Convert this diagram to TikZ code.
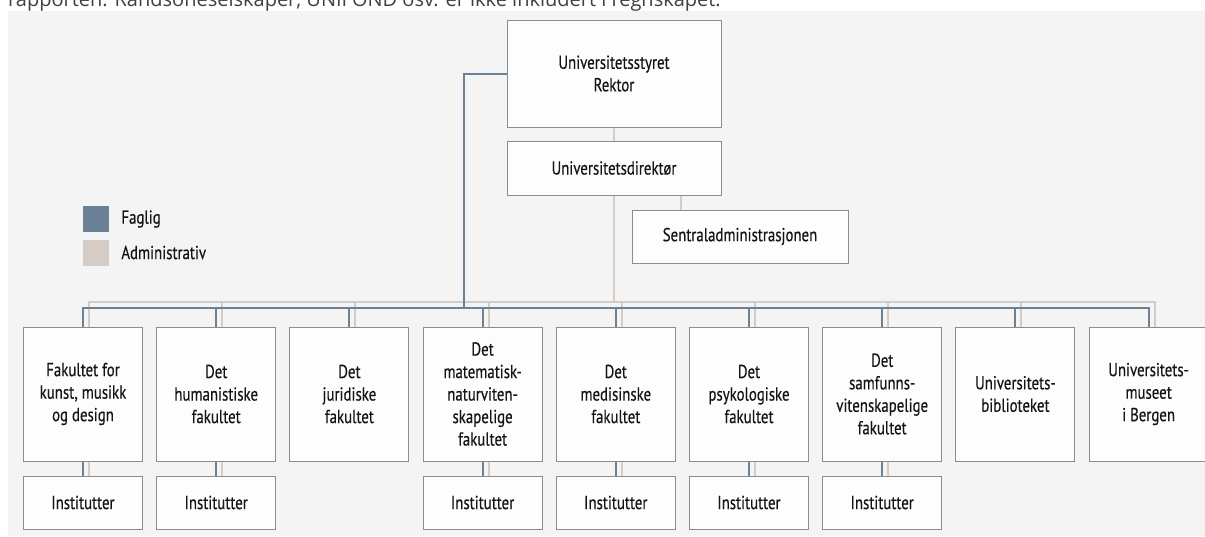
\documentclass[tikz,border=0pt]{standalone}
\usepackage{fontspec}
\setmainfont{PT Sans}[FakeStretch=0.79,FakeBold=0.35]
\newfontfamily\topfont{Open Sans}
\definecolor{bg}{HTML}{F4F4F4}
\definecolor{fag}{HTML}{6B8196}
\definecolor{adm}{HTML}{D5CCC5}
\definecolor{boxline}{HTML}{8C8C8C}
\definecolor{boxfill}{HTML}{FDFDFD}
\definecolor{txt}{HTML}{141414}
\definecolor{toptxt}{HTML}{404040}
\begin{document}
\begin{tikzpicture}[x=1pt,y=-1pt,
  box/.style={draw=boxline, line width=1pt, fill=boxfill, align=center, inner sep=0pt,
    font=\fontsize{18.8}{22.5}\selectfont, text=txt},
  fac/.style={box, minimum width=119, minimum height=134},
  inst/.style={box, minimum width=119, minimum height=53},
  faglig/.style={draw=fag, line width=2pt},
  admin/.style={draw=adm, line width=2pt},
  legtext/.style={anchor=west, inner sep=0pt, font=\fontsize{18.8}{22.5}\selectfont, text=txt}]
\useasboundingbox (0,0) rectangle (1205,536);
\clip (0,0) rectangle (1205,536);
\fill[bg] (8,11) rectangle (1205,536);
\node[anchor=base west, inner sep=0pt, font=\topfont\fontsize{20}{24}\selectfont, text=toptxt] (note) at (8,6.7)
  {rapporten. Randsoneselskaper, UNIFOND osv. er ikke inkludert i regnskapet.};

% legend
\node[fill=fag, minimum size=26, inner sep=0pt] (lf) at (96,219) {};
\node[fill=adm, minimum size=26, inner sep=0pt] (la) at (96,252.5) {};
\node[legtext] (lft) at ([xshift=12]lf.east) {Faglig};
\node[legtext] (lat) at ([xshift=12]la.east) {Administrativ};

% top boxes
\node[box, minimum width=214, minimum height=107] (top) at (614,73.5) {Universitetsstyret\\Rektor};
\node[box, minimum width=214, minimum height=54] (dir) at (614,168) {Universitetsdirektør};
\node[box, minimum width=216, minimum height=53] (sent) at (740,236.5) {Sentraladministrasjonen};

% faculties
\node[fac] (f1) at (83,394) {Fakultet for\\kunst, musikk\\og design};
\node[fac] (f2) at (216.2,394) {Det\\humanistiske\\fakultet};
\node[fac] (f3) at (349.4,394) {Det\\juridiske\\fakultet};
\node[fac] (f4) at (482.6,394) {Det\\matematisk-\\naturviten-\\skapelige\\fakultet};
\node[fac] (f5) at (615.8,394) {Det\\medisinske\\fakultet};
\node[fac] (f6) at (749,394) {Det\\psykologiske\\fakultet};
\node[fac] (f7) at (882.2,394) {Det\\samfunns-\\vitenskapelige\\fakultet};
\node[fac] (f8) at (1015.4,394) {Universitets-\\biblioteket};
\node[fac] (f9) at (1148.6,394) {Universitets-\\museet\\i Bergen};

% institutter
\foreach \i/\x in {1/83,2/216.2,4/482.6,5/615.8,6/749,7/882.2}
  \node[inst] (i\i) at (\x,502.5) {Institutter};

% administrative lines
\coordinate (ab) at (0,302);
\draw[admin] (top.south) -- (dir.north);
\draw[admin] ([xshift=67]dir.south) -- ([xshift=67]dir.south |- sent.north);
\draw[admin] (dir.south) -- (dir.south |- ab);
\draw[admin] ([xshift=6]f1.north) |- ([xshift=6]f9.north |- ab) -- ([xshift=6]f9.north);
\foreach \i in {2,...,8}
  \draw[admin] ([xshift=6]f\i.north) -- ([xshift=6]f\i.north |- ab);
\foreach \i in {1,2,4,5,6,7}
  \draw[admin] ([xshift=6]f\i.south) -- ([xshift=6]i\i.north);

% faglig lines
\coordinate (fb) at (0,308);
\coordinate (fagturn) at (464,308);
\draw[faglig] (top.west) -| (fagturn);
\draw[faglig] (f1.north) |- (f9.north |- fb) -- (f9.north);
\foreach \i in {2,...,8}
  \draw[faglig] (f\i.north) -- (f\i.north |- fb);
\foreach \i in {1,2,4,5,6,7}
  \draw[faglig] (f\i.south) -- (i\i.north);
\end{tikzpicture}
\end{document}
